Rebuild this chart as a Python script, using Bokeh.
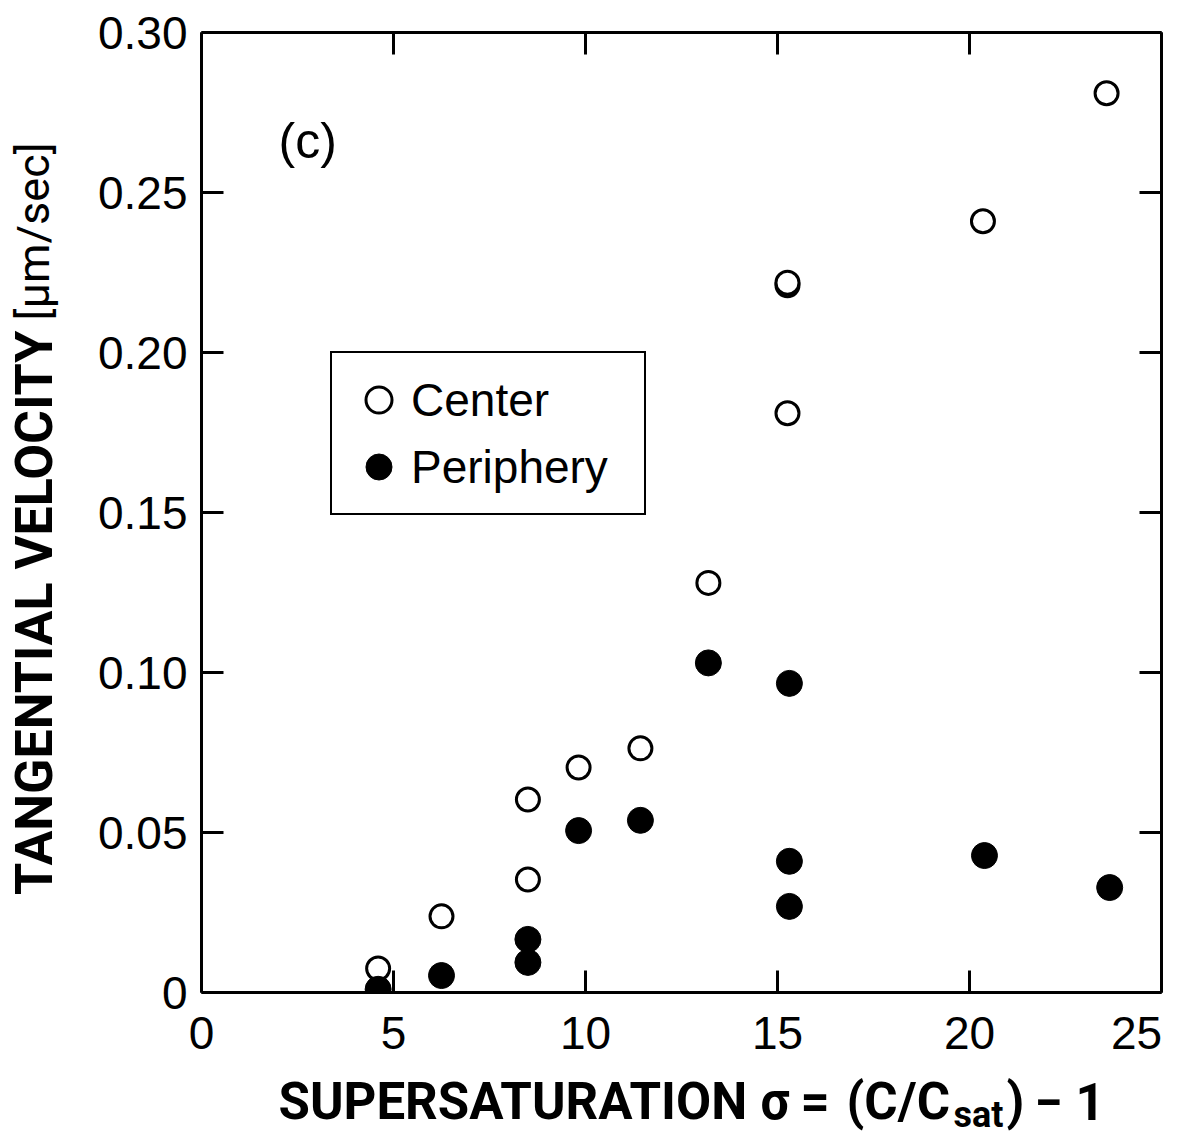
import numpy as np
from bokeh.plotting import figure
from bokeh.layouts import row, column
from bokeh.models import LinearAxis, FixedTicker, Label, Legend, LegendItem, Range1d
from bokeh.embed import file_html
from bokeh.resources import INLINE

# ---- data ----
center_x = [4.6, 6.25, 8.5, 8.5, 9.82, 11.43, 13.2, 15.26, 15.26, 15.26, 20.35, 23.57]
center_y = [0.0075, 0.0238, 0.0353, 0.0603, 0.0703, 0.0763, 0.128, 0.181, 0.2210, 0.2218, 0.241, 0.281]
peri_x = [4.6, 6.25, 8.5, 8.5, 9.82, 11.43, 13.2, 15.31, 15.31, 15.31, 20.39, 23.65]
peri_y = [0.001, 0.0053, 0.0094, 0.0166, 0.0506, 0.0538, 0.103, 0.0966, 0.041, 0.0269, 0.0428, 0.0328]

x_ticks = [0, 5, 10, 15, 20, 25]
x_tick_labels = ["0", "5", "10", "15", "20", "25\u00a0\u00a0\u00a0"]
y_ticks = [0, 0.05, 0.10, 0.15, 0.20, 0.25, 0.30]
y_tick_labels = ["0", "0.05", "0.10", "0.15", "0.20", "0.25", "0.30"]

FONT = "Liberation Sans"
TFONT = "Roboto"

# main plot occupies page x 80..1200, y 0..1062; frame at page x 201..1161, y 32..992
PH = 1062
p = figure(width=1120, height=PH, output_backend="svg", toolbar_location=None,
           x_range=Range1d(0, 25), y_range=Range1d(0, 0.30),
           min_border_left=121, min_border_right=39, min_border_top=32, min_border_bottom=PH - 992,
           x_axis_type=None, y_axis_type=None)
p.grid.visible = False
p.outline_line_color = None
p.background_fill_color = "white"
p.border_fill_color = "white"

def style_axis(ax, labels=True):
    ax.axis_line_width = 3
    ax.axis_line_color = "black"
    ax.major_tick_in = 22
    ax.major_tick_out = 0
    ax.major_tick_line_width = 3
    ax.minor_tick_line_color = None
    if labels:
        ax.major_label_text_font = FONT
        ax.major_label_text_font_size = "46px"
        ax.major_label_text_color = "black"
        ax.major_label_standoff = 14
    else:
        ax.major_label_text_font_size = "1px"
        ax.major_label_text_color = None
        ax.major_label_standoff = 0

bx = LinearAxis(ticker=FixedTicker(ticks=x_ticks),
                major_label_overrides={t: s for t, s in zip(x_ticks, x_tick_labels)})
style_axis(bx)
p.add_layout(bx, "below")
tx = LinearAxis(ticker=FixedTicker(ticks=x_ticks))
style_axis(tx, labels=False)
p.add_layout(tx, "above")
ly = LinearAxis(ticker=FixedTicker(ticks=y_ticks),
                major_label_overrides={t: s for t, s in zip(y_ticks, y_tick_labels)})
style_axis(ly)
p.add_layout(ly, "left")
ry = LinearAxis(ticker=FixedTicker(ticks=y_ticks))
style_axis(ry, labels=False)
p.add_layout(ry, "right")

r_center = p.scatter(center_x, center_y, marker="circle", size=23,
                     fill_color="white", line_color="black", line_width=3)
r_peri = p.scatter(peri_x, peri_y, marker="circle", size=26,
                   fill_color="black", line_color="black", line_width=1)

legend = Legend(items=[LegendItem(label="Center", renderers=[r_center]),
                       LegendItem(label="Periphery", renderers=[r_peri])],
                location=(129, 477),
                glyph_width=65, glyph_height=65, label_height=65, label_width=219,
                label_standoff=0, spacing=2, padding=14, margin=0,
                label_text_font=FONT, label_text_font_size="46px", label_text_color="black",
                border_line_color="black", border_line_width=2, border_line_alpha=1,
                background_fill_color="white", background_fill_alpha=1)
p.add_layout(legend, "center")

def dx(px):
    return (px - 201) / 38.4

def dy(py):
    return (992 - py) / 3200.0

p.add_layout(Label(x=dx(278), y=dy(140), text="(c)", text_font=FONT, text_font_size="50px",
                   text_color="black", text_align="left", text_baseline="middle"))

def blank_fig(w, h):
    f = figure(width=w, height=h, output_backend="svg", toolbar_location=None,
               x_range=Range1d(0, w), y_range=Range1d(0, h),
               min_border=0, min_border_left=0, min_border_right=0,
               min_border_top=0, min_border_bottom=0,
               x_axis_type=None, y_axis_type=None)
    f.grid.visible = False
    f.outline_line_color = None
    f.background_fill_color = "white"
    f.border_fill_color = "white"
    return f

# y title figure: page x 0..80, y 0..PH  (data y = PH - page y)
fy = blank_fig(80, PH)
fy.add_layout(Label(x=34, y=PH - 642, text="TANGENTIAL VELOCITY", angle=np.pi / 2,
                    text_font=TFONT, text_font_style="bold", text_font_size="52px",
                    text_color="black", text_align="center", text_baseline="middle"))
fy.add_layout(Label(x=33, y=PH - 220, text="[µm/sec]", angle=np.pi / 2,
                    text_font=TFONT, text_font_style="normal", text_font_size="45px",
                    text_color="black", text_align="center", text_baseline="middle"))

# x title figure: page x 0..1200, y PH..1136 (data y = 1136 - page y)
FH = 1136 - PH
fx = blank_fig(1200, FH)
base = 1136 - 1117 + 16
pieces = [("SUPERSATURATION", 278, "51px", base),
          ("σ", 760, "51px", base),
          ("=", 800, "51px", base),
          ("(C/C", 846, "51px", base),
          ("sat", 953, "36px", base - 13),
          (")", 1006, "51px", base),
          ("−", 1034, "51px", base),
          ("1", 1075, "51px", base)]
for txt, px, size, yy in pieces:
    fx.add_layout(Label(x=px, y=yy, text=txt, text_font=TFONT, text_font_style="bold",
                        text_font_size=size, text_color="black",
                        text_align="left", text_baseline="alphabetic"))

layout = column(row(fy, p, spacing=0), fx, spacing=0)
open("out.html", "w").write(file_html(layout, INLINE))
